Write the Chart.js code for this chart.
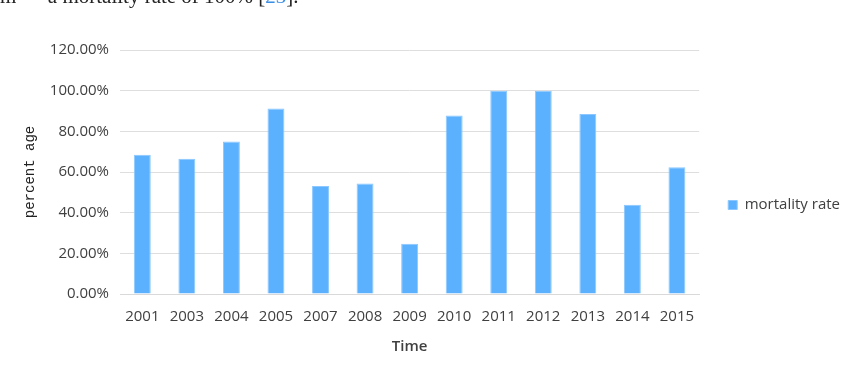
<!DOCTYPE html>
<html>
<head>
<meta charset="utf-8">
<script src="https://cdn.jsdelivr.net/npm/chart.js@4"></script>
<style>
  html, body { margin: 0; padding: 0; background: #fff; }
  #wrap { position: relative; width: 850px; height: 374px; overflow: hidden; }
  #caption {
    position: absolute; left: 0px; top: -16px;
    font-family: "Liberation Serif", serif; font-size: 21px; color: #222;
    white-space: nowrap;
  }
  #caption span { color: #3a8ee6; }
  #chart { position: absolute; left: 0; top: 0; }
</style>
</head>
<body>
<div id="wrap">
  <canvas id="chart" width="850" height="374"></canvas>
  <div id="caption">m — a mortality rate of 100% [<span>23</span>].</div>
</div>
<script>
const years = ['2001', '2003', '2004', '2005', '2007', '2008', '2009', '2010', '2011', '2012', '2013', '2014', '2015'];
const mortalityRate = [68.5, 66.5, 75.0, 91.2, 53.1, 54.4, 24.7, 87.8, 100, 100, 88.5, 43.9, 62.3];
const yTicks = [0, 20, 40, 60, 80, 100, 120];

const ctx = document.getElementById('chart');

new Chart(ctx, {
  type: 'bar',
  data: {
    labels: years,
    datasets: [{
      label: 'mortality rate',
      data: mortalityRate,
      backgroundColor: '#5cb1ff',
      borderColor: '#8cc8ff',
      borderWidth: 1,
      barPercentage: 0.76,
      categoryPercentage: 0.5
    }]
  },
  options: {
    responsive: false,
    animation: false,
    layout: {
      padding: { top: 50, left: 22, right: 0, bottom: 14 }
    },
    scales: {
      x: {
        grid: { display: false },
        border: { color: '#d9d9d9' },
        ticks: {
          color: '#404040',
          font: { family: '"Open Sans"', size: 15 },
          padding: 6,
          maxRotation: 0
        },
        title: {
          display: true,
          text: 'Time',
          color: '#404040',
          font: { family: '"Open Sans"', size: 15, weight: '600' },
          padding: { top: 6 }
        }
      },
      y: {
        min: 0,
        max: 120,
        afterBuildTicks: function(axis) {
          axis.ticks = yTicks.map(v => ({ value: v }));
        },
        grid: { color: '#dedede', drawTicks: false },
        border: { display: false },
        ticks: {
          color: '#404040',
          font: { family: '"Open Sans"', size: 15 },
          padding: 11,
          callback: function(value) {
            return value.toFixed(2) + '%';
          }
        },
        title: {
          display: true,
          text: 'percent age',
          color: '#222',
          font: { family: '"Liberation Mono"', size: 14 },
          padding: { top: 0, bottom: 0 }
        }
      },
      // empty axis, only keeps the gap between plot and legend
      gap: {
        position: 'right',
        grid: { display: false },
        border: { display: false },
        ticks: { display: false },
        afterFit: function(axis) {
          axis.width = 25;
        }
      }
    },
    plugins: {
      legend: {
        position: 'right',
        onClick: none,
        labels: {
          color: '#404040',
          font: { family: '"Open Sans"', size: 15 },
          boxWidth: 9,
          boxHeight: 9,
          padding: 4
        }
      },
      tooltip: { enabled: false }
    }
  }
});

function none() {
  return;
}
</script>
</body>
</html>
